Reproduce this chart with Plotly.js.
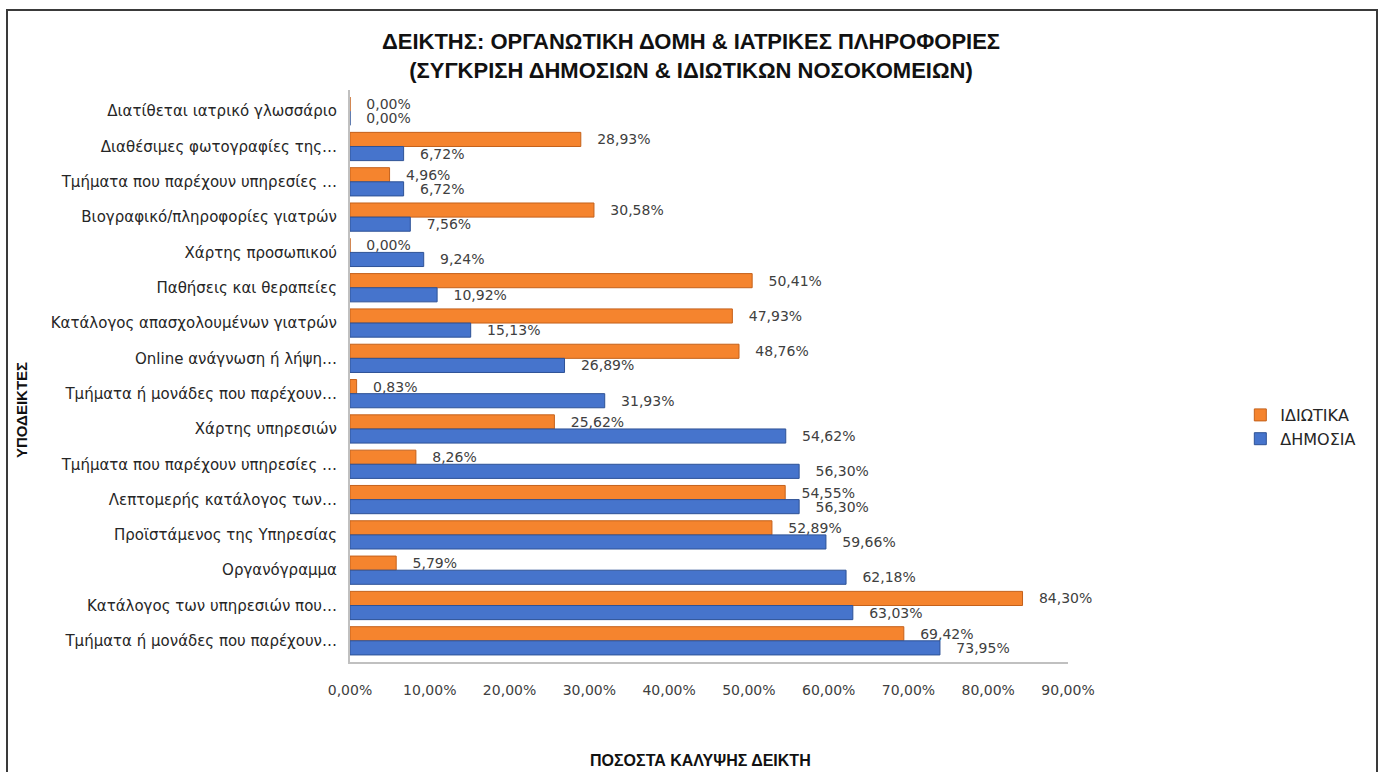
<!DOCTYPE html>
<html>
<head>
<meta charset="utf-8">
<script src="https://cdn.plot.ly/plotly-3.0.1.min.js"></script>
<style>
html,body{margin:0;padding:0;background:#fff;}
#chart{width:1382px;height:772px;position:relative;}
#frame{position:absolute;left:6px;top:9px;width:1372px;height:800px;border:2px solid #3a3a3a;border-bottom:none;pointer-events:none;box-sizing:border-box;}
</style>
</head>
<body>
<div id="chart"></div>
<div id="frame"></div>
<script>
// Categories, top to bottom as in the reference
const categories = [
  "Διατίθεται ιατρικό γλωσσάριο",
  "Διαθέσιμες φωτογραφίες της…",
  "Τμήματα που παρέχουν υπηρεσίες …",
  "Βιογραφικό/πληροφορίες γιατρών",
  "Χάρτης προσωπικού",
  "Παθήσεις και θεραπείες",
  "Κατάλογος απασχολουμένων γιατρών",
  "Online ανάγνωση ή λήψη…",
  "Τμήματα ή μονάδες που παρέχουν…",
  "Χάρτης υπηρεσιών",
  "Τμήματα που παρέχουν υπηρεσίες …",
  "Λεπτομερής κατάλογος των…",
  "Προϊστάμενος της Υπηρεσίας",
  "Οργανόγραμμα",
  "Κατάλογος των υπηρεσιών που…",
  "Τμήματα ή μονάδες που παρέχουν…"
];
const privateValues = [0.00, 28.93, 4.96, 30.58, 0.00, 50.41, 47.93, 48.76, 0.83, 25.62, 8.26, 54.55, 52.89, 5.79, 84.30, 69.42];
const publicValues  = [0.00, 6.72, 6.72, 7.56, 9.24, 10.92, 15.13, 26.89, 31.93, 54.62, 56.30, 56.30, 59.66, 62.18, 63.03, 73.95];
const seriesNames = ["ΙΔΙΩΤΙΚΑ", "ΔΗΜΟΣΙΑ"];
const xTicks = [0, 10, 20, 30, 40, 50, 60, 70, 80, 90];

const pos = categories.map((c, i) => i);
const fmt = v => '\u00a0\u00a0\u00a0' + v.toFixed(2).replace('.', ',') + '%';

const labelFont = {family: "DejaVu Sans, Verdana, sans-serif", size: 14, color: "#404040"};

const traces = [
  {
    type: 'bar', orientation: 'h', name: seriesNames[0],
    y: pos, x: privateValues,
    text: privateValues.map(fmt), textposition: 'outside', constraintext: 'none', cliponaxis: false,
    textfont: labelFont,
    marker: {color: '#F5842E', line: {color: '#C4611B', width: 1}},
    hoverinfo: 'x+name'
  },
  {
    type: 'bar', orientation: 'h', name: seriesNames[1],
    y: pos, x: publicValues,
    text: publicValues.map(fmt), textposition: 'outside', constraintext: 'none', cliponaxis: false,
    textfont: labelFont,
    marker: {color: '#4674CC', line: {color: '#2E5296', width: 1}},
    hoverinfo: 'x+name'
  }
];

const layout = {
  width: 1382, height: 772,
  margin: {l: 350, r: 314, t: 90, b: 110},
  paper_bgcolor: '#ffffff', plot_bgcolor: '#ffffff',
  separators: ',.',
  barmode: 'group', bargap: 0.2, bargroupgap: 0,
  title: {
    text: "<b>ΔΕΙΚΤΗΣ: ΟΡΓΑΝΩΤΙΚΗ ΔΟΜΗ & ΙΑΤΡΙΚΕΣ ΠΛΗΡΟΦΟΡΙΕΣ<br>(ΣΥΓΚΡΙΣΗ ΔΗΜΟΣΙΩΝ & ΙΔΙΩΤΙΚΩΝ ΝΟΣΟΚΟΜΕΙΩΝ)</b>",
    font: {family: "Liberation Sans, Arial, sans-serif", size: 22, color: "#111111"},
    x: 0.5, xref: 'container', y: 1 - 49/772, yref: 'container', yanchor: 'middle'
  },
  xaxis: {
    range: [0, 90], tickvals: xTicks, ticktext: xTicks.map(v => v.toFixed(2).replace('.', ',') + '%'),
    showgrid: false, zeroline: false, showline: true, linecolor: '#c0c0c0', linewidth: 2,
    ticks: '', tickfont: {family: "DejaVu Sans, Verdana, sans-serif", size: 14, color: "#404040"},
    ticklabelstandoff: 14, fixedrange: true
  },
  yaxis: {
    range: [15.6, -0.6], tickvals: pos, ticktext: categories,
    showgrid: false, zeroline: false, showline: true, linecolor: '#c0c0c0', linewidth: 2,
    ticks: '', tickfont: {family: "DejaVu Sans, Verdana, sans-serif", size: 15, color: "#262626"},
    ticklabelstandoff: 8, fixedrange: true
  },
  legend: {
    x: 1.24, y: (662 - 427) / 572, xanchor: 'left', yanchor: 'middle', traceorder: 'normal',
    font: {family: "DejaVu Sans, Verdana, sans-serif", size: 16, color: "#262626"},
    itemwidth: 30, bgcolor: 'rgba(0,0,0,0)'
  },
  annotations: [
    {
      text: "<b>ΥΠΟΔΕΙΚΤΕΣ</b>", textangle: -90, showarrow: false,
      xref: 'paper', yref: 'paper', x: (22 - 350) / 718, y: (662 - 410) / 572,
      xanchor: 'center', yanchor: 'middle',
      font: {family: "Liberation Sans Narrow, Liberation Sans, Arial, sans-serif", size: 15, color: "#111111"}
    },
    {
      text: "<b>ΠΟΣΟΣΤΑ ΚΑΛΥΨΗΣ ΔΕΙΚΤΗ</b>", showarrow: false,
      xref: 'paper', yref: 'paper', x: (700 - 350) / 718, y: (662 - 760) / 572,
      xanchor: 'center', yanchor: 'middle',
      font: {family: "Liberation Sans Narrow, Liberation Sans, Arial, sans-serif", size: 16, color: "#111111"}
    }
  ],
  showlegend: true
};

Plotly.newPlot('chart', traces, layout, {displayModeBar: false, staticPlot: true});
</script>
</body>
</html>
